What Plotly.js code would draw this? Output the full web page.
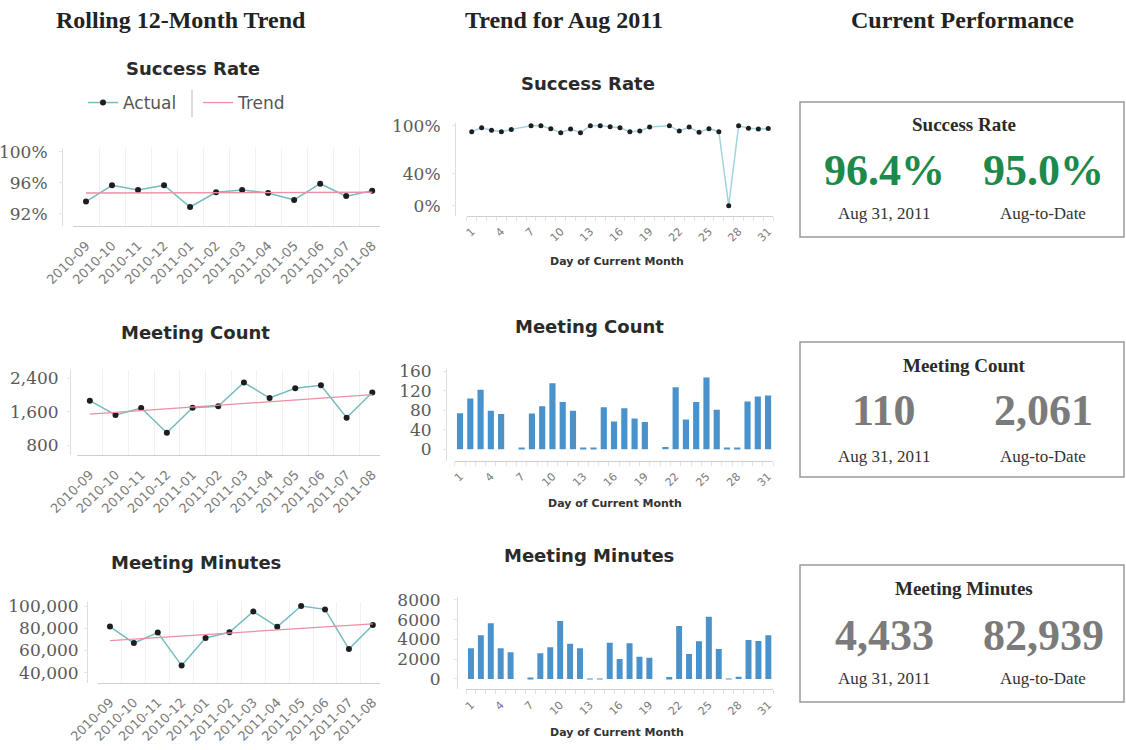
<!DOCTYPE html>
<html>
<head>
<meta charset="utf-8">
<script src="https://cdn.plot.ly/plotly-3.0.1.min.js"></script>
<style>
  html, body { margin: 0; padding: 0; background: #ffffff; }
  #chart { width: 1126px; height: 750px; }
</style>
</head>
<body>
<div id="chart"></div>
<script>
// ---------------- DATA ----------------
const months = ['2010-09','2010-10','2010-11','2010-12','2011-01','2011-02','2011-03','2011-04','2011-05','2011-06','2011-07','2011-08'];
const rateMonthly    = [93.6, 95.7, 95.1, 95.7, 92.9, 94.8, 95.1, 94.7, 93.8, 95.9, 94.3, 95.0];
const rateTrend      = [94.7, 94.8];
const countMonthly   = [1863, 1520, 1687, 1095, 1695, 1728, 2300, 1927, 2160, 2232, 1454, 2061];
const countTrend     = [1540, 2010];
const minutesMonthly = [81500, 66700, 76100, 46400, 71300, 76400, 95200, 81300, 100000, 97000, 61300, 82939];
const minutesTrend   = [68800, 84000];

const days = [1,2,3,4,5,6,7,8,9,10,11,12,13,14,15,16,17,18,19,20,21,22,23,24,25,26,27,28,29,30,31];
const dayTicks = [1,4,7,10,13,16,19,22,25,28,31];
const rateDaily = [92.5, 97.5, 94.2, 92.5, 95.4, null, 100, 100, 96.3, 91.3, 95.8, 91.3, 100, 100, 98.8, 97.5, 92.5, 93.3, 98.3, null, 100, 93.3, 98.3, 91.7, 96.3, 92.5, 0, 100, 96.7, 95.8, 96.4];
const countDaily = [74, 104, 122, 79, 72, 0, 2, 73, 88, 135, 97, 79, 2, 2, 86, 57, 84, 63, 56, 0, 5, 127, 61, 97, 147, 81, 2, 2, 98, 108, 110];
const minutesDaily = [3105, 4421, 5636, 3105, 2700, 0, 50, 2599, 3206, 5873, 3578, 3105, 40, 40, 3679, 2025, 3611, 2261, 2160, 0, 200, 5366, 2531, 3814, 6311, 3037, 30, 236, 3949, 3848, 4433];

const rateTicks = [92, 96, 100];
const rateTickText = ['92%', '96%', '100%'];
const rateDailyTicks = [0, 40, 100];
const rateDailyTickText = ['0%', '40%', '100%'];

const columnHeaders = ['Rolling 12-Month Trend', 'Trend for Aug 2011', 'Current Performance'];
const chartTitles = ['Success Rate', 'Meeting Count', 'Meeting Minutes'];
const kpiDayValues = ['96.4%', '110', '4,433'];
const kpiMtdValues = ['95.0%', '2,061', '82,939'];
const kpiDayLabel = 'Aug 31, 2011';
const kpiMtdLabel = 'Aug-to-Date';
const xTitle = 'Day of Current Month';

// ---------------- HELPERS ----------------
const W = 1126, H = 750;
const px = x => x / W;
const py = y => 1 - y / H;

const sansTickL = {family: 'DejaVu Sans, sans-serif', size: 13, color: '#7a7a7a'};
const sansTickM = {family: 'DejaVu Sans, sans-serif', size: 11, color: '#7a7a7a'};
const serifTick = {family: 'DejaVu Serif, serif', size: 17, color: '#5a5a5a'};

function xCat(x0, x1, anchor) {
  return {
    type: 'category', categoryorder: 'array', categoryarray: months,
    range: [-0.5, 11.3], domain: [px(x0), px(x1)], anchor: anchor,
    showline: true, linecolor: '#cfcfcf', linewidth: 1,
    ticks: '', tickson: 'boundaries', showgrid: true, gridcolor: '#f1f1f1',
    tickangle: -45, tickfont: sansTickL, ticklabelstandoff: 6, zeroline: false, fixedrange: true
  };
}
function xDay(x0, x1, anchor) {
  return {
    type: 'linear', range: [0.5, 31.5], domain: [px(x0), px(x1)], anchor: anchor,
    showline: true, linecolor: '#cfcfcf', linewidth: 1,
    tickmode: 'array', tickvals: dayTicks, ticks: '',
    minor: {tick0: 0.5, dtick: 1, ticks: 'outside', ticklen: 4, tickcolor: '#e2e2e2', showgrid: false},
    showgrid: false, zeroline: false, tickangle: -45, tickfont: sansTickM, ticklabelstandoff: 4, fixedrange: true
  };
}
function yAx(top, bottom, lineX, range, tickvals, ticktext, fmt, standoff) {
  const a = {
    domain: [py(bottom), py(top)], range: range, anchor: 'free', position: px(lineX),
    showline: true, linecolor: '#dedede', linewidth: 1,
    tickmode: 'array', tickvals: tickvals, tickformat: fmt,
    ticks: 'outside', ticklen: 3, tickcolor: '#e6e6e6',
    ticklabelstandoff: standoff,
    showgrid: false, zeroline: false, tickfont: serifTick, fixedrange: true
  };
  if (ticktext) a.ticktext = ticktext;
  return a;
}

const lineTeal = '#74bcc0';
const dotColor = '#1e1e1e';
const trendPink = '#ec8ea4';
const barBlue = '#4a92cb';

// ---------------- TRACES ----------------
const traces = [];
function monthlyTraces(vals, trend, xa, ya, legend) {
  traces.push({
    type: 'scatter', mode: 'lines+markers', name: 'Actual', x: months, y: vals,
    xaxis: xa, yaxis: ya, showlegend: legend,
    line: {color: lineTeal, width: 1.5}, marker: {color: dotColor, size: 6},
    hoverinfo: 'x+y'
  });
  traces.push({
    type: 'scatter', mode: 'lines', name: 'Trend', x: [months[0], months[months.length - 1]], y: trend,
    xaxis: xa, yaxis: ya, showlegend: legend,
    line: {color: trendPink, width: 1.3}, hoverinfo: 'skip'
  });
}
monthlyTraces(rateMonthly, rateTrend, 'x', 'y', true);
monthlyTraces(countMonthly, countTrend, 'x2', 'y2', false);
monthlyTraces(minutesMonthly, minutesTrend, 'x3', 'y3', false);

traces.push({
  type: 'scatter', mode: 'lines+markers', x: days, y: rateDaily, connectgaps: true,
  xaxis: 'x4', yaxis: 'y4', showlegend: false,
  line: {color: '#a3d3e3', width: 1.5}, marker: {color: dotColor, size: 5}
});
traces.push({
  type: 'bar', x: days, y: countDaily, xaxis: 'x5', yaxis: 'y5', showlegend: false,
  width: 0.6, marker: {color: barBlue, line: {width: 0}}
});
traces.push({
  type: 'bar', x: days, y: minutesDaily, xaxis: 'x6', yaxis: 'y6', showlegend: false,
  width: 0.6, marker: {color: barBlue, line: {width: 0}}
});

// ---------------- ANNOTATIONS & SHAPES ----------------
const annotations = [];
const shapes = [];
function txt(text, x, y, font, extra) {
  annotations.push(Object.assign({
    text: text, x: px(x), y: py(y), xref: 'paper', yref: 'paper',
    xanchor: 'center', yanchor: 'middle', showarrow: false, font: font
  }, extra || {}));
}
const headerFont = {family: 'Liberation Serif, serif', size: 24, color: '#222', weight: 'bold'};
txt(columnHeaders[0], 181, 20, headerFont);
txt(columnHeaders[1], 564, 20, headerFont);
txt(columnHeaders[2], 962, 20, headerFont);

const titleFont = {family: 'DejaVu Sans, sans-serif', size: 18, color: '#2a2a2a', weight: 'bold'};
txt(chartTitles[0], 193, 68, titleFont);
txt(chartTitles[1], 195, 333, titleFont);
txt(chartTitles[2], 196, 562, titleFont);
txt(chartTitles[0], 588, 83, titleFont);
txt(chartTitles[1], 589, 327, titleFont);
txt(chartTitles[2], 589, 555, titleFont);

const xTitleFont = {family: 'DejaVu Sans, sans-serif', size: 11, color: '#333', weight: 'bold'};
txt(xTitle, 617, 262, xTitleFont);
txt(xTitle, 615, 503, xTitleFont);
txt(xTitle, 617, 732, xTitleFont);

// legend separator
shapes.push({type: 'line', xref: 'paper', yref: 'paper', x0: px(192), x1: px(192), y0: py(90), y1: py(117),
  line: {color: '#bbbbbb', width: 1}});

// KPI boxes
const boxes = [
  {top: 102, bottom: 237, title: 125, value: 171, cap: 213, color: '#1d8a4b'},
  {top: 342, bottom: 477, title: 365, value: 410, cap: 457, color: '#7b7b7b'},
  {top: 565, bottom: 702, title: 588, value: 635, cap: 678, color: '#7b7b7b'}
];
boxes.forEach((b, i) => {
  shapes.push({type: 'rect', xref: 'paper', yref: 'paper', x0: px(800), x1: px(1124), y0: py(b.bottom), y1: py(b.top),
    line: {color: '#9a9a9a', width: 1.5}, fillcolor: 'rgba(0,0,0,0)'});
  txt(chartTitles[i], 964, b.title, {family: 'Liberation Serif, serif', size: 19, color: '#2a2a2a', weight: 'bold'});
  const vf = {family: 'Liberation Serif, serif', size: 44, color: b.color, weight: 'bold'};
  txt(kpiDayValues[i], 884, b.value, vf);
  txt(kpiMtdValues[i], 1043, b.value, vf);
  const cf = {family: 'Liberation Serif, serif', size: 17, color: '#333'};
  txt(kpiDayLabel, 884, b.cap, cf);
  txt(kpiMtdLabel, 1043, b.cap, cf);
});

// ---------------- LAYOUT ----------------
const layout = {
  width: W, height: H, margin: {l: 0, r: 0, t: 0, b: 0},
  paper_bgcolor: '#ffffff', plot_bgcolor: 'rgba(0,0,0,0)',
  showlegend: true,
  legend: {orientation: 'h', x: px(83), xanchor: 'left', y: py(103), yanchor: 'middle',
    font: {family: 'DejaVu Sans, sans-serif', size: 17, color: '#555'}, bgcolor: 'rgba(0,0,0,0)',
    itemwidth: 30, entrywidth: 70, entrywidthmode: 'pixels', tracegroupgap: 0},
  xaxis: xCat(73, 380, 'y'),
  yaxis: yAx(148, 226, 62, [90.45, 100.5], rateTicks, rateTickText, '', 8),
  xaxis2: xCat(77, 380, 'y2'),
  yaxis2: yAx(370, 455, 70, [560, 2600], [800, 1600, 2400], null, ',d', 5),
  xaxis3: xCat(98, 380, 'y3'),
  yaxis3: yAx(601.6, 682.7, 87, [31000, 104000], [40000, 60000, 80000, 100000], null, ',d', 2),
  xaxis4: xDay(466.8, 773.2, 'y4'),
  yaxis4: yAx(122.5, 215.7, 455, [-12.5, 104], rateDailyTicks, rateDailyTickText, '', 8),
  xaxis5: xDay(454.9, 773.2, 'y5'),
  yaxis5: yAx(368.6, 460.6, 446, [-23, 165], [0, 40, 80, 120, 160], null, 'd', 8),
  xaxis6: xDay(466, 773.3, 'y6'),
  yaxis6: yAx(596.5, 689.3, 457, [-1045, 8350], [0, 2000, 4000, 6000, 8000], null, 'd', 10),
  annotations: annotations, shapes: shapes,
  bargap: 0.4, hovermode: 'closest'
};

Plotly.newPlot('chart', traces, layout, {displayModeBar: false, responsive: false});
</script>
</body>
</html>
